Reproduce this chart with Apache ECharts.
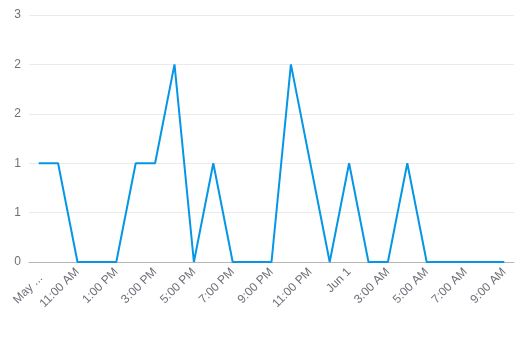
<!DOCTYPE html>
<html><head><meta charset="utf-8">
<script src="https://cdn.jsdelivr.net/npm/echarts@6/dist/echarts.min.js"></script>
<style>html,body{margin:0;padding:0;background:#fff}#c{width:520px;height:338px}</style>
</head><body><div id="c"></div>
<script>
const categories = [
  "May 31, 9:00 AM","10:00 AM","11:00 AM","12:00 PM","1:00 PM","2:00 PM","3:00 PM","4:00 PM",
  "5:00 PM","6:00 PM","7:00 PM","8:00 PM","9:00 PM","10:00 PM","11:00 PM","12:00 AM",
  "Jun 1","2:00 AM","3:00 AM","4:00 AM","5:00 AM","6:00 AM","7:00 AM","8:00 AM","9:00 AM"
];
const values = [1,1,0,0,0,1,1,2,0,1,0,0,0,2,1,0,1,0,0,1,0,0,0,0,0];
const yMin = 0, yMax = 2.5, yStep = 0.5;

// first label is clipped by the chart edge in the original
const catData = categories.map((c, i) => i === 0
  ? {value: c, textStyle: {width: 38, overflow: 'truncate', verticalAlign: 'top', padding: [0, 3, 0, 0]}}
  : c);

const chart = echarts.init(document.getElementById('c'), null, {renderer:'canvas'});
chart.setOption({
  animation:false,
  grid:{left:29,right:6,top:15,bottom:76,containLabel:false,outerBoundsMode:'none'},
  xAxis:{
    type:'category', data:catData, boundaryGap:true,
    axisLine:{lineStyle:{color:'#b5b5b5'}},
    axisTick:{alignWithLabel:true, interval:1, lineStyle:{color:'#b5b5b5'}},
    axisLabel:{interval:1, rotate:45, color:'#6e7079', fontSize:12, margin:8, fontFamily:'Liberation Sans, Arial, sans-serif'}
  },
  yAxis:{
    type:'value', min:yMin, max:yMax, interval:yStep,
    axisLine:{show:false}, axisTick:{show:false},
    splitLine:{lineStyle:{color:'#ebebeb'}},
    axisLabel:{color:'#6e7079', fontSize:12, margin:8, fontFamily:'Liberation Sans, Arial, sans-serif',
      formatter:v=>String(Math.round(v))}
  },
  series:[{type:'line', data:values, showSymbol:false, symbol:'none',
    lineStyle:{color:'#0596e6', width:2}, itemStyle:{color:'#0596e6'}}]
});
</script></body></html>
